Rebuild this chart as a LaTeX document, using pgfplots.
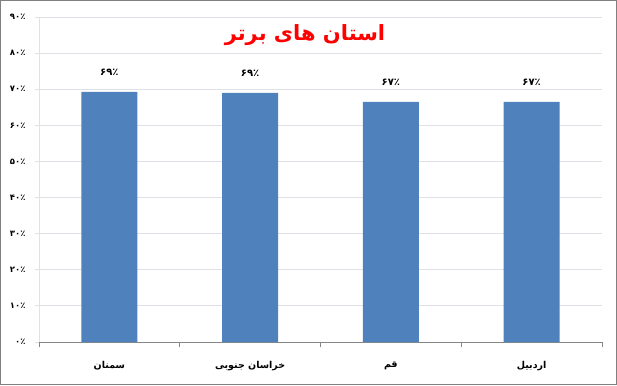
\documentclass[border=0pt]{standalone}
\usepackage{fontspec}
\usepackage{pgfplots}
\pgfplotsset{compat=1.18}
\TeXXeTstate=1
\newfontfamily\fa[Script=Arabic]{DejaVu Sans}
\definecolor{barblue}{RGB}{79,129,189}
\definecolor{gridc}{RGB}{222,226,230}
\definecolor{axc}{RGB}{134,134,134}
\definecolor{framec}{RGB}{128,128,128}
\begin{document}
\begin{tikzpicture}[x=1pt,y=1pt]
\useasboundingbox (0,0) rectangle (617,385);
\draw[framec, line width=1pt] (0.5,0.5) rectangle (616.5,384.5);
\begin{axis}[
  at={(39pt,43pt)}, anchor=south west,
  scale only axis, width=563pt, height=325pt,
  ybar, bar width=56pt,
  xmin=-0.5, xmax=3.5, ymin=0, ymax=90,
  axis lines*=left,
  x axis line style={axc, line width=0.8pt},
  y axis line style={gridc, line width=0.8pt},
  xtick={0,1,2,3},
  xticklabels={{\beginR سمنان\endR},{\beginR خراسان جنوبی\endR},{\beginR قم\endR},{\beginR اردبیل\endR}},
  major x tick style={draw=none},
  minor xtick={-0.5,0.5,1.5,2.5,3.5},
  minor x tick style={axc, line width=0.8pt},
  minor tick length=5pt,
  tick align=outside,
  xticklabel style={font=\fa\bfseries\fontsize{9.5}{11}\selectfont, yshift=-12pt},
  ytick={0,10,...,90},
  yticklabels={۰٪,۱۰٪,۲۰٪,۳۰٪,۴۰٪,۵۰٪,۶۰٪,۷۰٪,۸۰٪,۹۰٪},
  yticklabel style={font=\fa\bfseries\fontsize{8.5}{10}\selectfont, xshift=-6pt},
  major y tick style={gridc, line width=0.8pt},
  major tick length=4pt,
  ymajorgrids,
  grid style={gridc, line width=0.8pt},
]
\addplot[fill=barblue, draw=none,
  nodes near coords, point meta=explicit symbolic,
  nodes near coords style={font=\fa\bfseries\fontsize{10}{12}\selectfont, yshift=13pt}]
  coordinates {(0,69.3) [۶۹٪] (1,69.0) [۶۹٪] (2,66.5) [۶۷٪] (3,66.5) [۶۷٪]};
\end{axis}
\node[font=\fa\bfseries\fontsize{21}{25}\selectfont, text=red] at (305,350) {\beginR استان های برتر\endR};
\end{tikzpicture}
\end{document}
